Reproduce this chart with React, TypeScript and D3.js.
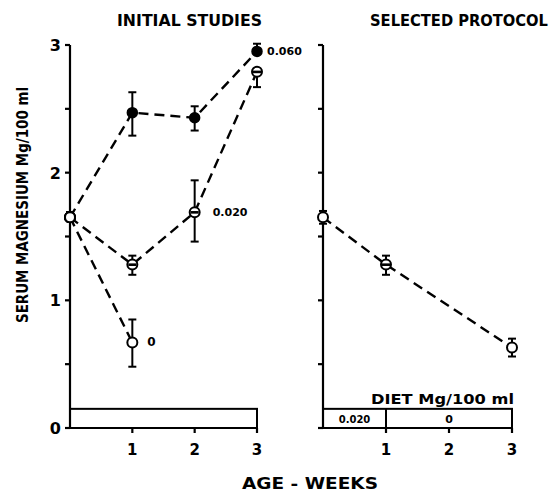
import * as d3 from 'd3';

// weeks on the x axis
const weeks = [0, 1, 2, 3];
const yTicks = [0, 0.5, 1, 1.5, 2, 2.5, 3];
const yTickLabels = ['0', '', '1', '', '2', '', '3'];

// initial studies, diet Mg/100 ml
const diet060 = [1.65, 2.47, 2.43, 2.95];
const diet060Err = [[1.62, 1.69], [2.29, 2.63], [2.33, 2.52], [2.95, 3.01]];
const diet020 = [1.65, 1.28, 1.69, 2.79];
const diet020Err = [[1.62, 1.69], [1.2, 1.35], [1.46, 1.94], [2.67, 2.81]];
const diet0Weeks = [0, 1];
const diet0 = [1.65, 0.67];
const diet0Err = [[1.62, 1.69], [0.48, 0.85]];

// selected protocol
const protoWeeks = [0, 1, 3];
const protoValues = [1.65, 1.28, 0.63];
const protoErr = [[1.6, 1.7], [1.2, 1.35], [0.56, 0.7]];
const protoMarkers = ['open', 'half', 'open'];

const FONT = "'DejaVu Sans', sans-serif";

const y = d3.scaleLinear().domain([0, 3]).range([428, 45]);
const xL = d3.scaleLinear().domain([0, 3]).range([70, 257]);
const xR = d3.scaleLinear().domain([0, 3]).range([323, 512]);

const Marker = ({ cx, cy, kind }: { cx: number; cy: number; kind: string }) => {
  const r = 5;
  if (kind === 'filled') return <circle cx={cx} cy={cy} r={r} fill="#000" stroke="#000" strokeWidth={1.5} />;
  if (kind === 'half')
    return (
      <g>
        <circle cx={cx} cy={cy} r={r} fill="#fff" stroke="#000" strokeWidth={2} />
        <rect x={cx - r + 1} y={cy - 1.2} width={2 * r - 2} height={2.6} fill="#000" />
      </g>
    );
  return <circle cx={cx} cy={cy} r={r} fill="#fff" stroke="#000" strokeWidth={2} />;
};

const ErrBar = ({ cx, lo, hi }: { cx: number; lo: number; hi: number }) => (
  <g stroke="#000" strokeWidth={2}>
    <line x1={cx} x2={cx} y1={y(lo)} y2={y(hi)} />
    <line x1={cx - 4} x2={cx + 4} y1={y(lo)} y2={y(lo)} />
    <line x1={cx - 4} x2={cx + 4} y1={y(hi)} y2={y(hi)} />
  </g>
);

const Series = ({ xs, ys, errs, marks, xScale }: { xs: number[]; ys: number[]; errs: number[][]; marks: string[]; xScale: d3.ScaleLinear<number, number> }) => {
  const pts = xs.map((w, i) => [xScale(w), y(ys[i])] as [number, number]);
  const line = d3.line();
  return (
    <g>
      <path d={line(pts) || ''} fill="none" stroke="#000" strokeWidth={2.4} strokeDasharray="10,6" />
      {pts.map((p, i) => (
        <g key={i}>
          <ErrBar cx={p[0]} lo={errs[i][0]} hi={errs[i][1]} />
          <Marker cx={p[0]} cy={p[1]} kind={marks[i]} />
        </g>
      ))}
    </g>
  );
};

const Axes = ({ xScale, labels }: { xScale: d3.ScaleLinear<number, number>; labels: boolean }) => (
  <g stroke="#000" strokeWidth={2.2}>
    <line x1={xScale(0)} x2={xScale(0)} y1={y(0)} y2={y(3)} />
    {yTicks.map((t) => (
      <line key={t} x1={xScale(0) - 5} x2={xScale(0)} y1={y(t)} y2={y(t)} />
    ))}
    <line x1={xScale(0)} x2={xScale(3)} y1={y(0)} y2={y(0)} />
    {weeks.slice(1).map((w) => (
      <line key={w} x1={xScale(w)} x2={xScale(w)} y1={y(0)} y2={y(0) + 5} />
    ))}
    {labels &&
      yTicks.map((t, i) => (
        <text key={t} x={xScale(0) - 9} y={y(t) + 6} textAnchor="end" stroke="none" fontFamily={FONT} fontWeight="bold" fontSize={16}>
          {yTickLabels[i]}
        </text>
      ))}
    {weeks.slice(1).map((w) => (
      <text key={w} x={xScale(w)} y={455} textAnchor="middle" stroke="none" fontFamily={FONT} fontWeight="bold" fontSize={15}>
        {w}
      </text>
    ))}
  </g>
);

export default function App() {
  const boxTop = y(0.15);
  return (
    <svg width={557} height={494} style={{ position: 'absolute', left: 0, top: 0, background: '#fff' }}>
      <text x={117} y={26} textLength={145} lengthAdjust="spacingAndGlyphs" fontFamily={FONT} fontWeight="bold" fontSize={15}>
        INITIAL STUDIES
      </text>
      <text x={370} y={26} textLength={178} lengthAdjust="spacingAndGlyphs" fontFamily={FONT} fontWeight="bold" fontSize={15}>
        SELECTED PROTOCOL
      </text>
      <text transform="translate(28,323) rotate(-90)" textLength={236} lengthAdjust="spacingAndGlyphs" fontFamily={FONT} fontWeight="bold" fontSize={15}>
        SERUM MAGNESIUM  Mg/100 ml
      </text>
      <text x={242} y={489} textLength={136} lengthAdjust="spacingAndGlyphs" fontFamily={FONT} fontWeight="bold" fontSize={15}>
        AGE - WEEKS
      </text>

      <Axes xScale={xL} labels={true} />
      <Axes xScale={xR} labels={false} />

      {/* diet boxes */}
      <rect x={xL(0)} y={boxTop} width={xL(3) - xL(0)} height={y(0) - boxTop} fill="none" stroke="#000" strokeWidth={2} />
      <rect x={xR(0)} y={boxTop} width={xR(3) - xR(0)} height={y(0) - boxTop} fill="none" stroke="#000" strokeWidth={2} />
      <line x1={xR(1)} x2={xR(1)} y1={boxTop} y2={y(0)} stroke="#000" strokeWidth={2} />
      <text x={(xR(0) + xR(1)) / 2} y={y(0) - 5} textAnchor="middle" fontFamily={FONT} fontWeight="bold" fontSize={10}>0.020</text>
      <text x={(xR(1) + xR(3)) / 2} y={y(0) - 5} textAnchor="middle" fontFamily={FONT} fontWeight="bold" fontSize={11}>0</text>
      <text x={371} y={404} textLength={143} lengthAdjust="spacingAndGlyphs" fontFamily={FONT} fontWeight="bold" fontSize={14}>
        DIET  Mg/100 ml
      </text>

      <Series xs={weeks} ys={diet060} errs={diet060Err} marks={['open', 'filled', 'filled', 'filled']} xScale={xL} />
      <Series xs={weeks} ys={diet020} errs={diet020Err} marks={['open', 'half', 'half', 'half']} xScale={xL} />
      <Series xs={diet0Weeks} ys={diet0} errs={diet0Err} marks={['open', 'open']} xScale={xL} />
      <Marker cx={xL(0)} cy={y(1.65)} kind="open" />
      <Series xs={protoWeeks} ys={protoValues} errs={protoErr} marks={protoMarkers} xScale={xR} />

      <text x={xL(3) + 10} y={y(diet060[3]) + 4} fontFamily={FONT} fontWeight="bold" fontSize={11}>0.060</text>
      <text x={xL(2) + 18} y={y(diet020[2]) + 4} fontFamily={FONT} fontWeight="bold" fontSize={11}>0.020</text>
      <text x={xL(1) + 15} y={y(diet0[1]) + 4} fontFamily={FONT} fontWeight="bold" fontSize={12}>0</text>
    </svg>
  );
}
